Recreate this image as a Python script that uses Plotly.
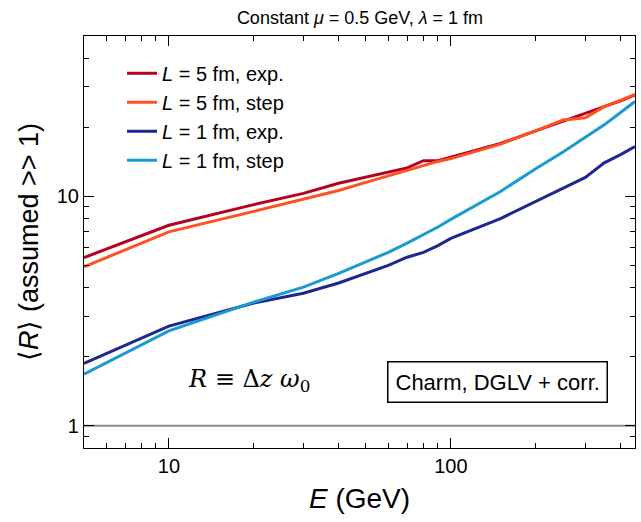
import plotly.graph_objects as go

# Energy grid (GeV)
E = [5, 10, 20, 30, 40, 50, 60, 70, 80, 90, 100, 150, 200, 250, 300, 350, 400, 450]

# <R> values
R_L5_exp = [5.41, 7.48, 9.2, 10.3, 11.4, 12.1, 12.7, 13.3, 14.3, 14.3, 14.8, 17.0, 19.3, 21.2, 23.0, 24.6, 26.1, 27.7]
R_L5_step = [4.93, 7.0, 8.6, 9.7, 10.6, 11.5, 12.3, 13.0, 13.6, 14.2, 14.6, 16.9, 19.3, 21.5, 22.0, 24.6, 26.2, 27.8]
R_L1_exp = [1.87, 2.72, 3.43, 3.78, 4.19, 4.63, 5.0, 5.43, 5.7, 6.1, 6.56, 8.0, 9.5, 10.8, 12.1, 14.0, 15.2, 16.5]
R_L1_step = [1.68, 2.59, 3.46, 4.02, 4.62, 5.17, 5.7, 6.25, 6.8, 7.35, 7.94, 10.5, 13.2, 15.6, 18.1, 20.5, 23.2, 25.9]

series_names = ["<i>L</i> = 5 fm, exp.", "<i>L</i> = 5 fm, step",
                "<i>L</i> = 1 fm, exp.", "<i>L</i> = 1 fm, step"]
series_values = [R_L5_exp, R_L5_step, R_L1_exp, R_L1_step]
series_colors = ["#b5001f", "#ff5020", "#1c2890", "#1a9bd0"]

x_range = [5, 450]
y_range = [0.8, 50]

FONT = "Liberation Sans, Arial, Helvetica, sans-serif"

fig = go.Figure()

# reference line at R = 1
fig.add_trace(go.Scatter(x=x_range, y=[1, 1], mode="lines",
                         line=dict(color="#8a8a8a", width=2.2),
                         showlegend=False, hoverinfo="skip"))

for name, vals, col in zip(series_names, series_values, series_colors):
    fig.add_trace(go.Scatter(x=E, y=vals, mode="lines", name=name,
                             line=dict(color=col, width=3)))

axis_common = dict(
    type="log", showgrid=False, zeroline=False,
    showline=True, linecolor="black", linewidth=1.2, mirror="allticks",
    ticks="inside", ticklen=10, tickwidth=1.2, tickcolor="black",
    tick0=0, dtick=1,
    tickfont=dict(family=FONT, size=20, color="black"),
    minor=dict(ticks="inside", ticklen=5, tickwidth=1.2, tickcolor="black", showgrid=False),
)

fig.update_xaxes(**axis_common,
                 range=[0.69897, 2.65321],
                 title=dict(text="<i>E</i> (GeV)", font=dict(family=FONT, size=28, color="black"),
                            standoff=12))
fig.update_yaxes(**axis_common,
                 range=[-0.09691, 1.69897],
                 title=dict(text="⟨<i>R</i>⟩ (assumed &gt;&gt; 1)",
                            font=dict(family=FONT, size=27, color="black"), standoff=10))

fig.update_layout(
    width=641, height=522,
    margin=dict(l=84, r=6, t=36, b=74),
    paper_bgcolor="white", plot_bgcolor="white",
    title=dict(text="Constant <i>μ</i> = 0.5 GeV, <i>λ</i> = 1 fm",
               font=dict(family=FONT, size=18, color="black"),
               x=0.5616, xanchor="center", y=0.967, yanchor="middle"),
    legend=dict(x=0.069, y=0.957, xanchor="left", yanchor="top",
                bgcolor="rgba(0,0,0,0)", borderwidth=0,
                font=dict(family=FONT, size=20, color="black"),
                tracegroupgap=0),
    annotations=[
        dict(x=0.300, y=0.163, xref="paper", yref="paper", xanchor="center", yanchor="middle",
             text="<i>R</i> ≡ Δ<i>z</i> <i>ω</i><sub>0</sub>",
             showarrow=False, font=dict(family="DejaVu Serif, serif", size=24, color="black")),
        dict(x=0.751, y=0.160, xref="paper", yref="paper", xanchor="center", yanchor="middle",
             text="Charm, DGLV + corr.", showarrow=False,
             font=dict(family=FONT, size=22, color="black"),
             bordercolor="black", borderwidth=1.5, borderpad=7, bgcolor="white"),
    ],
)

fig.write_html("out.html")
